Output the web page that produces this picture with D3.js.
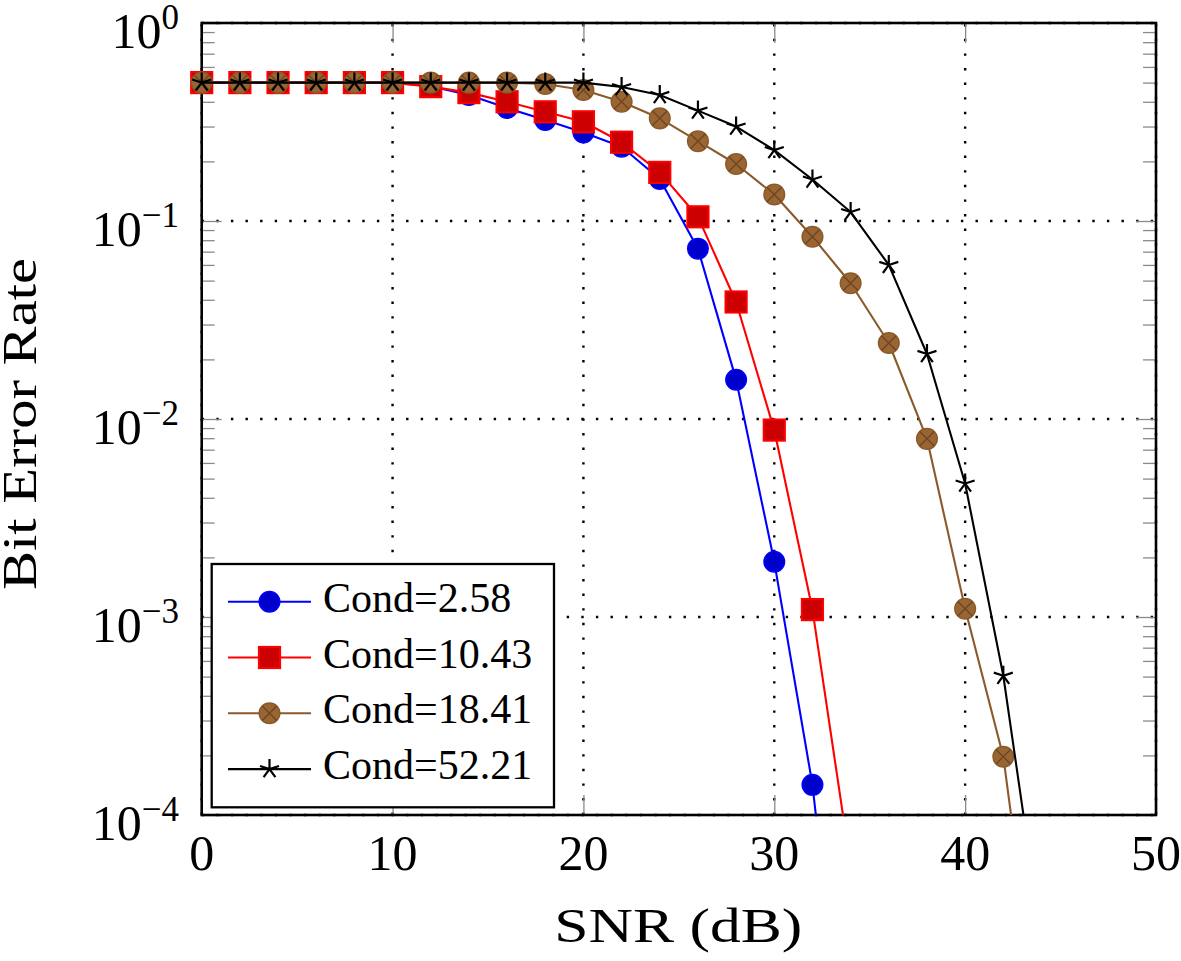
<!DOCTYPE html>
<html>
<head>
<meta charset="utf-8">
<script src="https://cdn.jsdelivr.net/npm/d3@7"></script>
<style>
  html, body { margin: 0; padding: 0; background: #fff; }
  svg { display: block; }
  text { font-family: "Liberation Serif", "Times New Roman", serif; fill: #000; }
</style>
</head>
<body>
<svg id="chart" width="1181" height="961"></svg>
<script>
// ---------------- data ----------------
const snrBlue  = [0,2,4,6,8,10,12,14,16,18,20,22,24,26,28,30,32,34];
const berBlue  = [0.5,0.5,0.5,0.5,0.5,0.5,0.48,0.433,0.372,0.324,0.28,0.237,0.163,0.0725,0.0158,0.0019,1.42e-4,2.8e-6];

const snrRed   = [0,2,4,6,8,10,12,14,16,18,20,22,24,26,28,30,32,34];
const berRed   = [0.5,0.5,0.5,0.5,0.5,0.5,0.477,0.445,0.40,0.356,0.317,0.25,0.176,0.105,0.039,0.00879,0.00109,5.5e-5];

const snrBrown = [0,2,4,6,8,10,12,14,16,18,20,22,24,26,28,30,32,34,36,38,40,42,44];
const berBrown = [0.5,0.5,0.5,0.5,0.5,0.5,0.5,0.5,0.5,0.492,0.459,0.40,0.33,0.253,0.194,0.136,0.0833,0.0485,0.0242,0.00794,0.0011,1.97e-4,7e-6];

const snrBlack = [0,2,4,6,8,10,12,14,16,18,20,22,24,26,28,30,32,34,36,38,40,42,44];
const berBlack = [0.5,0.5,0.5,0.5,0.5,0.5,0.5,0.5,0.5,0.5,0.5,0.475,0.433,0.361,0.30,0.228,0.162,0.111,0.06,0.0213,0.00472,5.05e-4,2.35e-5];

const seriesNames = ["Cond=2.58","Cond=10.43","Cond=18.41","Cond=52.21"];
const xTicks = [0,10,20,30,40,50];
const yTickExps = [0,-1,-2,-3,-4];
const xLabel = "SNR (dB)";
const yLabel = "Bit Error Rate";

// ---------------- layout ----------------
const L = 201.7, R = 1156, T = 23, B = 815;
const svg = d3.select("#chart");
svg.append("rect").attr("width",1181).attr("height",961).attr("fill","#fff");

const x = d3.scaleLinear().domain([0,50]).range([L,R]);
const y = d3.scaleLog().domain([1e-4,1]).range([B,T]);

// ---------------- grid ----------------
const grid = svg.append("g");
const gridStyle = sel => sel.attr("stroke","#000").attr("stroke-width",2.4)
  .attr("stroke-dasharray","2.4 12.2").attr("fill","none");
xTicks.forEach(v => {
  grid.append("line").attr("x1",x(v)).attr("x2",x(v)).attr("y1",B).attr("y2",T).call(gridStyle);
});
yTickExps.forEach(e => {
  grid.append("line").attr("x1",L).attr("x2",R).attr("y1",y(Math.pow(10,e))).attr("y2",y(Math.pow(10,e))).call(gridStyle);
});

// ---------------- ticks via d3 axes ----------------
const minorY = [];
for (let e = -4; e < 0; e++) for (let m = 2; m <= 9; m++) minorY.push(m*Math.pow(10,e));
const majorY = yTickExps.map(e => Math.pow(10,e));

function styleAxis(g){
  g.select(".domain").remove();
  g.selectAll(".tick line").attr("stroke","#8a8a8a").attr("stroke-width",1.3);
  g.selectAll(".tick text").remove();
}
svg.append("g").attr("transform",`translate(0,${B})`)
  .call(d3.axisBottom(x).tickValues(xTicks).tickSize(-20).tickFormat("")).call(styleAxis);
svg.append("g").attr("transform",`translate(0,${T})`)
  .call(d3.axisTop(x).tickValues(xTicks).tickSize(-20).tickFormat("")).call(styleAxis);
svg.append("g").attr("transform",`translate(${L},0)`)
  .call(d3.axisLeft(y).tickValues(majorY).tickSize(-20).tickFormat("")).call(styleAxis);
svg.append("g").attr("transform",`translate(${R},0)`)
  .call(d3.axisRight(y).tickValues(majorY).tickSize(-20).tickFormat("")).call(styleAxis);
svg.append("g").attr("transform",`translate(${L},0)`)
  .call(d3.axisLeft(y).tickValues(minorY).tickSize(-13).tickFormat("")).call(styleAxis);
svg.append("g").attr("transform",`translate(${R},0)`)
  .call(d3.axisRight(y).tickValues(minorY).tickSize(-13).tickFormat("")).call(styleAxis);

// frame
svg.append("rect").attr("x",L).attr("y",T).attr("width",R-L).attr("height",B-T)
  .attr("fill","none").attr("stroke","#000").attr("stroke-width",2.6);

// ---------------- tick labels ----------------
xTicks.forEach(v => {
  svg.append("text").attr("x",x(v)).attr("y",B+55).attr("text-anchor","middle")
    .attr("font-size",50).text(v);
});
yTickExps.forEach(e => {
  const yy = y(Math.pow(10,e));
  const t = svg.append("text").attr("x",179).attr("y",yy+25).attr("text-anchor","end").attr("font-size",50);
  t.append("tspan").text("10");
  t.append("tspan").attr("dy",-19).attr("font-size",35).text(e === 0 ? "0" : "\u2212" + Math.abs(e));
});

// axis titles
svg.append("text").attr("x",(L+R)/2 - 0.5).attr("y",942).attr("text-anchor","middle")
  .attr("font-size",48).attr("textLength",248).attr("lengthAdjust","spacingAndGlyphs").text(xLabel);
svg.append("text").attr("transform",`translate(36,424) rotate(-90)`).attr("text-anchor","middle")
  .attr("font-size",48).attr("textLength",332).attr("lengthAdjust","spacingAndGlyphs").text(yLabel);

// ---------------- series ----------------
svg.append("defs").append("clipPath").attr("id","plotclip")
  .append("rect").attr("x",L).attr("y",T).attr("width",R-L).attr("height",B-T);

const brownLine = "#8b5a2b", brownFill = "#996633", brownCross = "#6e4622";

function drawCircle(g, cx, cy){
  g.append("circle").attr("cx",cx).attr("cy",cy).attr("r",10.3)
    .attr("fill","#0000cc").attr("stroke","#0000ff").attr("stroke-width",1.4);
}
function drawSquare(g, cx, cy){
  g.append("rect").attr("x",cx-10.6).attr("y",cy-10.6).attr("width",21.2).attr("height",21.2)
    .attr("fill","#cc0000").attr("stroke","#ff0000").attr("stroke-width",2);
}
function drawOtimes(g, cx, cy){
  const r = 10.3;
  g.append("circle").attr("cx",cx).attr("cy",cy).attr("r",r)
    .attr("fill",brownFill).attr("stroke",brownLine).attr("stroke-width",1.5);
  const d = r*0.7071;
  g.append("path").attr("d",`M${cx-d},${cy-d}L${cx+d},${cy+d}M${cx-d},${cy+d}L${cx+d},${cy-d}`)
    .attr("stroke",brownCross).attr("stroke-width",1.4).attr("fill","none");
}
function drawStar(g, cx, cy){
  const r = 10;
  let d = "";
  for (let i = 0; i < 5; i++){
    const a = (90 + 72*i) * Math.PI/180;
    d += `M${cx},${cy}L${cx + r*Math.cos(a)},${cy - r*Math.sin(a)}`;
  }
  g.append("path").attr("d",d).attr("stroke","#000").attr("stroke-width",2.2).attr("fill","none");
}

const series = [
  {xs: snrBlue,  ys: berBlue,  color: "#0000ff", marker: drawCircle},
  {xs: snrRed,   ys: berRed,   color: "#ff0000", marker: drawSquare},
  {xs: snrBrown, ys: berBrown, color: brownLine, marker: drawOtimes},
  {xs: snrBlack, ys: berBlack, color: "#000000", marker: drawStar},
];

const line = d3.line().x(d => x(d[0])).y(d => y(d[1]));
series.forEach((s, i) => {
  const pts = s.xs.map((v, j) => [v, s.ys[j]]);
  const g = svg.append("g");
  g.append("path").datum(pts).attr("d",line).attr("clip-path","url(#plotclip)")
    .attr("fill","none").attr("stroke",s.color).attr("stroke-width",2.1).attr("stroke-linejoin","round");
  pts.filter(p => p[1] >= 1e-4).forEach(p => s.marker(g, x(p[0]), y(p[1])));
});

// ---------------- legend ----------------
const lg = svg.append("g");
lg.append("rect").attr("x",211.7).attr("y",564).attr("width",342.3).attr("height",243.3)
  .attr("fill","#fff").attr("stroke","#000").attr("stroke-width",2.3);
series.forEach((s, i) => {
  const cy = 601.7 + i*55.8;
  lg.append("line").attr("x1",228).attr("x2",311).attr("y1",cy).attr("y2",cy)
    .attr("stroke",s.color).attr("stroke-width",2.1);
  s.marker(lg, 269.5, cy);
  lg.append("text").attr("x",323).attr("y",cy+10).attr("font-size",42).text(seriesNames[i]);
});
</script>
</body>
</html>
